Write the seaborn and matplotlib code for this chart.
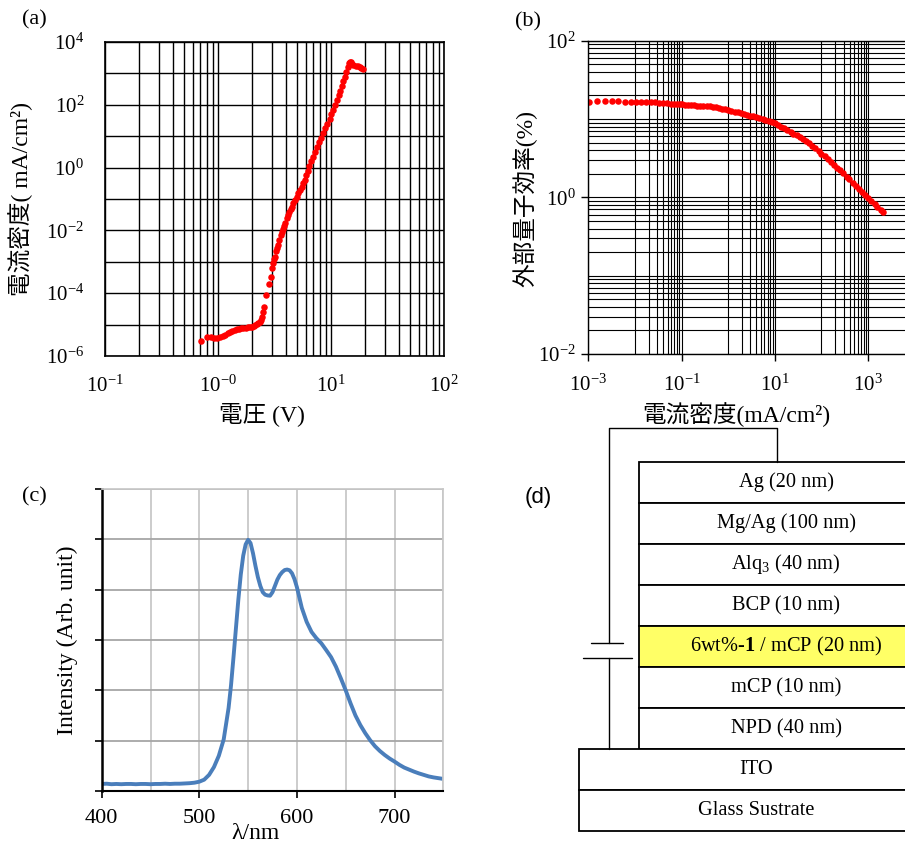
import matplotlib
matplotlib.use("Agg")
import numpy as np
import matplotlib.pyplot as plt
from matplotlib.ticker import FixedLocator, NullLocator, NullFormatter
from matplotlib.patches import Rectangle
import seaborn as sns

# (a) current density - voltage, log10 of J (mA/cm2)
volt_a = [0.71, 0.80, 0.86, 0.92, 0.98, 1.04, 1.10, 1.16, 1.22, 1.28, 1.34, 1.40,
          1.47, 1.54, 1.61, 1.68, 1.76, 1.84, 1.92, 2.00, 2.07, 2.13, 2.20, 2.27,
          2.33, 2.38, 2.44, 2.50, 2.56, 2.67, 2.80, 2.94, 3.00, 3.06, 3.14, 3.21,
          3.27, 3.35, 3.43, 3.50, 3.60, 3.68, 3.75, 3.84, 3.93, 4.06, 4.18, 4.29,
          4.40, 4.50, 4.65, 4.81, 4.97, 5.14, 5.32, 5.51, 5.70, 5.89, 6.02, 6.20,
          6.40, 6.62, 6.88, 7.15, 7.45, 7.80, 8.15, 8.50, 8.90, 9.30, 9.70, 10.1,
          10.5, 10.9, 11.3, 11.7, 12.1, 12.5, 12.9, 13.3, 13.7, 14.1, 14.45, 14.75,
          14.95, 15.3, 15.8, 16.5, 17.2, 17.9, 18.6, 19.3]
log_j_a = [-5.52, -5.38, -5.38, -5.42, -5.44, -5.40, -5.36, -5.32, -5.28, -5.24, -5.20, -5.17,
           -5.15, -5.14, -5.12, -5.11, -5.10, -5.09, -5.08, -5.07, -5.05, -5.01, -4.97, -4.94,
           -4.91, -4.86, -4.77, -4.60, -4.43, -4.06, -3.71, -3.47, -3.21, -3.03, -2.92, -2.84,
           -2.65, -2.55, -2.46, -2.31, -2.15, -2.06, -1.97, -1.87, -1.77, -1.62, -1.51, -1.40,
           -1.32, -1.25, -1.14, -1.03, -0.93, -0.82, -0.72, -0.61, -0.50, -0.39, -0.25, -0.10,
           0.05, 0.20, 0.35, 0.50, 0.65, 0.80, 0.95, 1.10, 1.25, 1.40, 1.55, 1.70,
           1.85, 2.00, 2.15, 2.30, 2.45, 2.60, 2.75, 2.90, 3.05, 3.20, 3.32, 3.37,
           3.36, 3.30, 3.26, 3.24, 3.22, 3.19, 3.16, 3.13]

# (b) EQE vs current density, both log10
log_j_b = [-2.98, -2.81, -2.64, -2.50, -2.36, -2.21, -2.09, -1.98, -1.87, -1.77, -1.66,
           -1.57, -1.48, -1.40, -1.31, -1.23, -1.16, -1.10, -1.04, -0.98, -0.93,
           -0.86, -0.80, -0.73, -0.66, -0.60, -0.53, -0.46, -0.40, -0.33, -0.26, -0.20,
           -0.13, -0.06, 0.00, 0.07, 0.14, 0.20, 0.27, 0.34, 0.40, 0.47, 0.54, 0.60,
           0.67, 0.74, 0.80, 0.87, 0.94, 1.00, 1.07, 1.14, 1.20, 1.27, 1.34, 1.40,
           1.47, 1.54, 1.60, 1.67, 1.74, 1.80, 1.87, 1.94, 2.00, 2.07, 2.14, 2.20,
           2.27, 2.34, 2.40, 2.47, 2.54, 2.60, 2.67, 2.74, 2.80, 2.87, 2.94, 3.00,
           3.07, 3.14, 3.20, 3.27, 3.33]
log_eqe_b = [1.223, 1.232, 1.228, 1.228, 1.228, 1.219, 1.219, 1.219, 1.219, 1.219, 1.211,
             1.211, 1.206, 1.202, 1.202, 1.198, 1.194, 1.194, 1.189, 1.189, 1.185,
             1.182, 1.179, 1.176, 1.172, 1.170, 1.167, 1.163, 1.160, 1.155, 1.148, 1.142,
             1.134, 1.125, 1.118, 1.108, 1.096, 1.085, 1.073, 1.063, 1.055, 1.045, 1.034, 1.025,
             1.013, 1.001, 0.990, 0.975, 0.959, 0.945, 0.924, 0.902, 0.882, 0.858, 0.835, 0.815,
             0.791, 0.765, 0.742, 0.715, 0.688, 0.660, 0.625, 0.589, 0.558, 0.523, 0.487, 0.455,
             0.418, 0.380, 0.347, 0.307, 0.266, 0.230, 0.188, 0.146, 0.110, 0.068, 0.026, -0.010,
             -0.051, -0.091, -0.125, -0.160, -0.190]

# (c) EL spectrum
wavelength = [400, 405, 410, 415, 420, 425, 430, 435, 440, 445, 450, 455, 460, 465, 470,
              475, 480, 485, 490, 495, 500, 505, 510, 515, 520, 525, 530, 532.5, 535, 537.5,
              540, 542.5, 545, 547.5, 550, 552.5, 555, 557.5, 560, 562.5, 565, 567.5, 570,
              572.5, 575, 577.5, 580, 582.5, 585, 587.5, 590, 592.5, 595, 597.5, 600, 605,
              610, 615, 620, 625, 630, 635, 640, 645, 650, 655, 660, 665, 670, 675, 680, 685,
              690, 695, 700, 705, 710, 715, 720, 725, 730, 735, 740, 745, 750]
intensity = [0.028, 0.029, 0.027, 0.028, 0.027, 0.028, 0.028, 0.027, 0.028, 0.028, 0.027,
             0.028, 0.028, 0.029, 0.028, 0.029, 0.029, 0.030, 0.031, 0.033, 0.037, 0.045,
             0.064, 0.095, 0.140, 0.205, 0.330, 0.420, 0.530, 0.645,
             0.760, 0.860, 0.935, 0.980, 0.998, 0.985, 0.945, 0.895, 0.850, 0.815, 0.790,
             0.780, 0.777, 0.776, 0.790, 0.815, 0.840, 0.858, 0.870, 0.878, 0.880, 0.877,
             0.865, 0.842, 0.810, 0.728, 0.672, 0.632, 0.607, 0.587, 0.560, 0.532, 0.494,
             0.448, 0.400, 0.348, 0.300, 0.262, 0.230, 0.202, 0.178, 0.159, 0.143, 0.129,
             0.117, 0.104, 0.093, 0.085, 0.077, 0.070, 0.064, 0.058, 0.054, 0.051, 0.048]

# (d) device stack
stack_layers = ["Ag (20 nm)", "Mg/Ag (100 nm)", "Alq$_\\mathregular{3}$ (40 nm)", "BCP (10 nm)",
                "6wt%-$\\mathbf{1}$ / mCP (20 nm)", "mCP (10 nm)", "NPD (40 nm)"]
emitting_layer = 4
base_layers = ["ITO", "Glass Sustrate"]

sns.set_theme(style="white", rc={"axes.edgecolor": "black", "text.color": "black",
                                  "axes.labelcolor": "black", "xtick.color": "black",
                                  "ytick.color": "black"})
plt.rcParams["font.family"] = ["Liberation Serif", "Noto Sans CJK JP"]
plt.rcParams["mathtext.fontset"] = "custom"
plt.rcParams["mathtext.rm"] = "Liberation Serif"
plt.rcParams["mathtext.it"] = "Liberation Serif:italic"
plt.rcParams["mathtext.bf"] = "Liberation Serif:bold"

W, H = 905, 844
fig = plt.figure(figsize=(W / 100, H / 100), dpi=100)


def box(l, t, r, b):
    return [l / W, 1 - b / H, (r - l) / W, (b - t) / H]


def pow10(e):
    return "$\\mathregular{10^{%s}}$" % e


TICK = 15
LAB = 17

# ---- (a)
ax = fig.add_axes(box(105, 42, 444, 356))
sns.scatterplot(x=volt_a, y=10 ** np.array(log_j_a), color="red", s=22, linewidth=0, ax=ax)
ax.set_xscale("log")
ax.set_yscale("log")
ax.set_xlim(0.1, 100)
ax.set_ylim(1e-6, 1e4)
ax.xaxis.set_major_locator(FixedLocator([0.1, 1, 10, 100]))
ax.xaxis.set_minor_locator(FixedLocator([m * 10.0 ** d for d in (-1, 0, 1) for m in range(2, 10)]))
ax.xaxis.set_minor_formatter(NullFormatter())
ax.set_xticklabels([pow10("-1"), pow10("-0"), pow10("1"), pow10("2")])
ax.yaxis.set_major_locator(FixedLocator([10.0 ** d for d in range(-6, 5)]))
ax.yaxis.set_minor_locator(NullLocator())
ax.set_yticklabels([pow10(d) if d % 2 == 0 else "" for d in range(-6, 5)])
ax.grid(which="both", color="black", lw=1.0)
ax.tick_params(axis="x", which="both", length=0, labelsize=TICK, pad=14)
ax.tick_params(axis="y", which="both", length=0, labelsize=TICK, pad=15)
for s in ax.spines.values():
    s.set_linewidth(1.2)
ax.set_xlabel("電圧 (V)", fontsize=LAB)
ax.xaxis.set_label_coords(0.463, -0.146)
ax.set_ylabel("電流密度( mA/cm²)", fontsize=LAB)
ax.yaxis.set_label_coords(-0.212, 0.5)

# ---- (b)
bx = fig.add_axes(box(588.3, 40.7, 914.7, 354))
sns.scatterplot(x=10 ** np.array(log_j_b), y=10 ** np.array(log_eqe_b), color="red", s=22,
                linewidth=0, ax=bx)
bx.set_xscale("log")
bx.set_yscale("log")
bx.set_xlim(1e-3, 1e4)
bx.set_ylim(1e-2, 1e2)
bx.xaxis.set_major_locator(FixedLocator([1e-3, 1e-1, 1e1, 1e3]))
bx.xaxis.set_minor_locator(FixedLocator([m * 10.0 ** d for d in (-2, 0, 2) for m in range(1, 10)]))
bx.xaxis.set_minor_formatter(NullFormatter())
bx.set_xticklabels([pow10("-3"), pow10("-1"), pow10("1"), pow10("3")])
bx.yaxis.set_major_locator(FixedLocator([1e-2, 1, 1e2]))
bx.yaxis.set_minor_locator(FixedLocator([m * 10.0 ** d for d in (-2, -1, 0, 1) for m in range(1, 10)
                                         if not (m == 1 and d % 2 == 0)]))
bx.yaxis.set_minor_formatter(NullFormatter())
bx.set_yticklabels([pow10("-2"), pow10("0"), pow10("2")])
bx.grid(which="both", color="black", lw=0.8)
bx.tick_params(which="major", length=5, width=1, direction="out", labelsize=TICK,
               left=True, bottom=True)
bx.tick_params(axis="x", which="major", pad=10)
bx.tick_params(axis="y", which="major", pad=4)
bx.tick_params(which="minor", length=0)
for s in bx.spines.values():
    s.set_linewidth(1.0)
bx.set_xlabel("電流密度(mA/cm²)", fontsize=LAB)
bx.xaxis.set_label_coords(0.452, -0.153)
bx.set_ylabel("外部量子効率(%)", fontsize=LAB)
bx.yaxis.set_label_coords(-0.157, 0.496)

# ---- (c)
cx = fig.add_axes(box(101.7, 489, 443.3, 791))
sns.lineplot(x=wavelength, y=intensity, color="#4a7ebb", lw=2.8, ax=cx)
cx.set_xlim(400, 750)
cx.set_ylim(0, 1.2)
cx.set_xticks([400, 500, 600, 700])
cx.xaxis.set_minor_locator(FixedLocator([450, 550, 650, 750]))
cx.set_yticks(np.arange(0, 1.21, 0.2))
cx.set_yticklabels([])
cx.grid(which="both", axis="x", color="#c8c8c8", lw=1.3)
cx.grid(which="major", axis="y", color="#a6a6a6", lw=1.3)
cx.tick_params(axis="y", which="major", length=5, width=1.2, direction="out", left=True)
cx.tick_params(axis="x", which="major", length=5, width=1.2, direction="out", bottom=True,
               labelsize=16, pad=8)
cx.tick_params(axis="x", which="minor", length=0)
cx.spines["left"].set_linewidth(1.8)
cx.spines["bottom"].set_linewidth(1.5)
cx.spines["top"].set_color("#c8c8c8")
cx.spines["right"].set_color("#c8c8c8")
cx.set_xlabel("λ/nm", fontsize=17)
cx.xaxis.set_label_coords(0.449, -0.105)
cx.set_ylabel("Intensity (Arb. unit)", fontsize=17)
cx.yaxis.set_label_coords(-0.069, 0.5)

# ---- (d)
dx = fig.add_axes([560 / W, 0, 1 - 560 / W, 430 / H])
dx.set_xlim(560, 905)
dx.set_ylim(844, 430)
dx.axis("off")
stack_l, stack_r, stack_t, row_h = 639, 933, 476, 39.5
for i, name in enumerate(stack_layers):
    top = stack_t + i * row_h
    fc = "#ffff66" if i == emitting_layer else "white"
    dx.add_patch(Rectangle((stack_l, top), stack_r - stack_l, row_h, fc=fc, ec="black", lw=1.3))
    dx.text((stack_l + stack_r) / 2, top + row_h / 2, name, ha="center", va="center", fontsize=14.7)
base_l = 579
base_t = stack_t + len(stack_layers) * row_h
for i, name in enumerate(base_layers):
    top = base_t + i * row_h
    dx.add_patch(Rectangle((base_l, top), stack_r - base_l, row_h, fc="white", ec="black", lw=1.3))
    dx.text((base_l + stack_r) / 2, top + row_h / 2, name, ha="center", va="center", fontsize=14.7)
# wiring and battery symbol
wire_x, wire_top, lead_x = 609, 443, 777
cap_t, cap_b = 650.5, 664.5
dx.plot([wire_x, wire_x, lead_x, lead_x], [cap_t, wire_top, wire_top, stack_t], color="black", lw=1)
dx.plot([wire_x, wire_x], [cap_b, base_t], color="black", lw=1)
dx.plot([591, 623], [cap_t, cap_t], color="black", lw=1)
dx.plot([583, 632], [cap_b, cap_b], color="black", lw=1)

# panel letters
fig.text(34 / W, 1 - 20 / H, "(a)", fontsize=16, ha="center", va="center")
fig.text(528 / W, 1 - 22 / H, "(b)", fontsize=16, ha="center", va="center")
fig.text(34 / W, 1 - 497 / H, "(c)", fontsize=16, ha="center", va="center")
fig.text(538 / W, 1 - 497 / H, "(d)", fontsize=16, ha="center", va="center",
         family="Liberation Sans")

fig.savefig("out.png", dpi=100)
